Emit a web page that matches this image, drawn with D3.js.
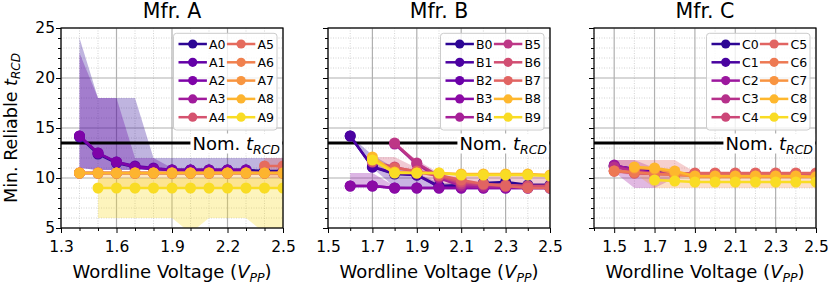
<!DOCTYPE html>
<html>
<head>
<meta charset="utf-8">
<script src="https://cdn.jsdelivr.net/npm/d3@7"></script>
<style>
  body { margin: 0; background: #fff; }
  svg { font-family: "DejaVu Sans", sans-serif; }
</style>
</head>
<body>
<svg id="chart" width="830" height="284"></svg>
<script>
// values
const yTicks = [5, 10, 15, 20, 25];
const nominalTRCD = 13.5;

const namesA = ["A0", "A1", "A2", "A3", "A4", "A5", "A6", "A7", "A8", "A9"];
const colorsA = ["#2c0594", "#6400a7", "#7e03a8", "#a01a9c", "#d5536f", "#e56b5d", "#f0804e", "#f89540", "#fdb42f", "#f9dc24"];
const xTicksA = [1.3, 1.6, 1.9, 2.2, 2.5];
const voltsA = [1.4, 1.5, 1.6, 1.7, 1.8, 1.9, 2.0, 2.1, 2.2, 2.3, 2.4, 2.5];
const meanA = [
	[14.1, 12.4, 11.5, 11.1, 10.9, 10.8, 10.8, 10.8, 10.8, 10.8, 10.7, 10.7],
	[14.2, 12.5, 11.6, 11.2, 11.0, 10.8, 10.8, 10.8, 10.8, 10.8, null, null],
	[14.2, 12.5, 11.6, 11.1, 10.9, 10.8, 10.8, 10.8, 10.8, 10.8, null, null],
	[10.5, 10.5, 10.5, 10.5, 10.5, 10.5, 10.5, 10.5, 10.5, 10.5, 10.5, 10.5],
	[10.5, 10.5, 10.5, 10.5, 10.5, 10.5, 10.5, 10.5, 10.5, 10.5, 10.5, 10.5],
	[null, null, null, null, null, null, null, null, null, null, 11.2, 11.2],
	[10.5, 10.5, 10.5, 10.5, 10.5, 10.5, 10.5, 10.5, 10.5, 10.5, 10.5, 10.5],
	[10.5, 10.5, 10.5, 10.5, 10.5, 10.5, 10.5, 10.5, 10.5, 10.5, 10.5, 10.5],
	[10.5, 10.5, 10.5, 10.5, 10.5, 10.5, 10.5, 10.5, 10.5, 10.5, 10.5, 10.5],
	[null, 9.0, 9.0, 9.0, 9.0, 9.0, 9.0, 9.0, 9.0, 9.0, 9.0, 9.0],
];
const lowA = [
	[11.0, 10.8, 10.8, 10.8, 10.8, 10.8, 10.8, 10.8, 10.8, 10.8, 10.7, 10.7],
	[11.0, 10.8, 10.8, 10.8, 10.8, 10.8, 10.8, 10.8, 10.8, 10.8, null, null],
	null, null, null,
	[null, null, null, null, null, null, null, null, null, null, 10.0, 10.0],
	null, null,
	[null, 9.0, 9.0, 9.0, 9.0, 9.0, 9.0, 9.0, 9.0, 9.0, 9.0, 9.0],
	[null, 6.0, 6.0, 6.0, 6.0, 6.0, 4.5, 6.0, 6.0, 6.0, 4.5, 4.5],
];
const highA = [
	[24.0, 18.0, 18.0, 18.0, 12.0, 12.0, 12.0, 12.0, 12.0, 12.0, 12.0, 12.0],
	[22.5, 18.0, 18.0, 12.0, 12.0, 11.0, 11.0, 11.0, 11.0, 11.0, null, null],
	null, null, null,
	[null, null, null, null, null, null, null, null, null, null, 12.0, 12.0],
	null, null,
	[null, 10.5, 10.5, 10.5, 10.5, 10.5, 10.5, 10.5, 10.5, 10.5, 10.5, 10.5],
	[null, 10.0, 10.0, 10.0, 10.0, 10.0, 10.0, 10.0, 10.0, 10.0, 10.0, 10.0],
];

const namesB = ["B0", "B1", "B2", "B3", "B4", "B5", "B6", "B7", "B8", "B9"];
const colorsB = ["#2c0594", "#4c02a1", "#6a00a8", "#8b0aa5", "#a62098", "#bd3786", "#d14e72", "#e16462", "#feb72d", "#f9dc24"];
const xTicksB = [1.5, 1.7, 1.9, 2.1, 2.3, 2.5];
const voltsB = [1.6, 1.7, 1.8, 1.9, 2.0, 2.1, 2.2, 2.3, 2.4, 2.5];
const meanB = [
	[14.2, 11.1, 10.4, 10.3, 9.2, 9.3, 9.5, 9.6, 9.3, 9.3],
	[14.2, 11.1, 10.5, 10.3, 9.1, 9.1, 9.1, 9.1, 9.1, 9.1],
	[9.2, 9.2, 9.0, 9.0, 9.0, 9.0, 9.0, 9.0, 9.0, 9.0],
	[9.2, 9.2, 9.0, 9.0, 9.0, 9.0, 9.0, 9.0, 9.0, 9.0],
	[null, null, 13.4, 11.4, 10.0, 9.2, 9.1, 9.1, 9.1, 9.1],
	[null, null, 13.5, 11.5, 10.2, 9.4, 9.3, 9.2, 9.2, 9.2],
	[null, 11.6, 11.1, 10.6, 10.2, 9.6, 9.4, 9.3, 9.2, 9.2],
	[null, null, 11.0, 10.7, 10.3, 9.8, 9.4, 9.2, 9.0, 9.0],
	[null, 12.1, 10.6, 10.5, 10.5, 10.4, 10.4, 10.4, 10.4, 10.3],
	[null, 11.8, 10.5, 10.5, 10.5, 10.3, 10.3, 10.3, 10.3, 10.2],
];
const lowB = [
	[14.0, 11.0, 10.3, 10.3, 9.2, 9.2, 9.2, 9.2, 9.2, 9.2],
	[14.2, 11.0, 9.1, 9.1, 9.1, 9.1, 9.1, 9.1, 9.1, 9.1],
	null,
	[9.2, 9.2, 9.0, 9.0, 9.0, 9.0, 9.0, 9.0, 9.0, 9.0],
	null,
	[null, null, 13.5, 11.0, 10.0, 9.2, 9.2, 9.2, 9.2, 9.2],
	[null, 11.0, 10.4, 10.2, 9.2, 9.0, 9.0, 9.0, 9.0, 9.0],
	null, null, null,
];
const highB = [
	[14.2, 12.3, 11.0, 10.5, 9.5, 9.5, 9.6, 9.6, 9.5, 9.5],
	[14.2, 11.1, 10.5, 10.3, 9.1, 9.1, 9.1, 9.1, 9.1, 9.1],
	null,
	[10.5, 10.5, 9.2, 9.0, 9.0, 9.0, 9.0, 9.0, 9.0, 9.0],
	null,
	[null, null, 13.5, 11.8, 10.5, 9.6, 9.5, 9.4, 9.4, 9.4],
	[null, 12.1, 12.1, 11.0, 10.3, 10.2, 10.2, 10.2, 10.2, 10.2],
	null, null, null,
];

const namesC = ["C0", "C1", "C2", "C3", "C4", "C5", "C6", "C7", "C8", "C9"];
const colorsC = ["#2c0594", "#4903a0", "#9c179e", "#b6308b", "#cc4778", "#e16462", "#ed7953", "#f89441", "#feb72d", "#f9dc24"];
const xTicksC = [1.5, 1.7, 1.9, 2.1, 2.3, 2.5];
const voltsC = [1.5, 1.6, 1.7, 1.8, 1.9, 2.0, 2.1, 2.2, 2.3, 2.4, 2.5];
const meanC = [
	[11.2, 10.9, 10.6, 10.5, 10.4, 10.4, 10.4, 10.4, 10.4, 10.4, 10.4],
	[11.2, 10.9, 10.6, 10.5, 10.4, 10.4, 10.4, 10.4, 10.4, 10.4, 10.4],
	[11.3, 10.8, 10.5, 10.4, 10.3, 10.3, 10.3, 10.3, 10.3, 10.3, 10.3],
	[11.1, 10.7, 10.5, 10.4, 10.4, 10.4, 10.4, 10.4, 10.4, 10.4, 10.4],
	[10.7, 10.5, 10.4, 10.4, 10.4, 10.4, 10.4, 10.4, 10.4, 10.4, 10.4],
	[10.7, 10.5, 10.4, 10.4, 10.5, 10.5, 10.5, 10.5, 10.5, 10.5, 10.5],
	[10.7, 10.6, 10.4, 10.3, 10.2, 10.2, 10.2, 10.2, 10.2, 10.2, 10.2],
	[null, 11.0, 10.9, 10.5, 10.1, 10.1, 10.1, 10.1, 10.1, 10.1, 10.1],
	[null, 11.1, 11.0, 10.7, 10.2, 10.2, 10.2, 10.2, 10.2, 10.2, 10.1],
	[null, null, 9.8, 9.7, 9.6, 9.6, 9.6, 9.6, 9.6, 9.6, 9.6],
];
const lowC = [
	null, null,
	[10.6, 9.0, 9.0, 10.0, 10.2, 10.2, 10.2, 10.2, 10.2, 10.2, 10.2],
	null, null,
	[10.5, 10.3, 10.3, 10.3, 10.3, 10.3, 10.3, 10.3, 10.3, 10.3, 10.3],
	null,
	[null, 10.5, 9.0, 9.0, 9.0, 9.0, 9.0, 9.0, 9.0, 9.0, 9.0],
	null, null,
];
const highC = [
	null, null,
	[11.8, 11.8, 11.0, 10.6, 10.4, 10.4, 10.4, 10.4, 10.4, 10.4, 10.4],
	null, null,
	[11.8, 11.8, 11.8, 11.8, 10.6, 10.6, 10.6, 10.6, 10.6, 10.6, 10.6],
	null,
	[null, 11.0, 10.4, 10.4, 10.4, 10.4, 10.4, 10.4, 10.4, 10.4, 10.4],
	null, null,
];

const svg = d3.select("svg#chart");
const plotTop = 28;
const plotBottom = 228;
const yScale = d3.scaleLinear([5, 25], [plotBottom, plotTop]);

const panels = [
	{ key: "A", title: "Mfr. A", left: 61, right: 283, domain: [1.3, 2.5], xTicks: xTicksA, volts: voltsA,
		mean: meanA, low: lowA, high: highA, names: namesA, colors: colorsA, showY: true },
	{ key: "B", title: "Mfr. B", left: 328, right: 550, domain: [1.5, 2.5], xTicks: xTicksB, volts: voltsB,
		mean: meanB, low: lowB, high: highB, names: namesB, colors: colorsB, showY: false },
	{ key: "C", title: "Mfr. C", left: 594, right: 816, domain: [1.4, 2.5], xTicks: xTicksC, volts: voltsC,
		mean: meanC, low: lowC, high: highC, names: namesC, colors: colorsC, showY: false },
];

const isMajor = (ticks, v) => ticks.some((t) => Math.abs(t - v) < 1e-6);

function styleAxis(a, size) {
	a.select(".domain").remove();
	a.selectAll(".tick line").attr("stroke", "#000").attr("stroke-width", 1);
	a.selectAll(".tick text").attr("fill", "#000");
	a.attr("font-size", size).attr("font-family", "DejaVu Sans, sans-serif");
}

function drawPanel(p) {
	const x = d3.scaleLinear(p.domain, [p.left, p.right]);
	const g = svg.append("g").attr("id", "panel" + p.key);

	g.append("clipPath")
		.attr("id", "clip" + p.key)
		.append("rect")
		.attr("x", p.left)
		.attr("y", plotTop)
		.attr("width", p.right - p.left)
		.attr("height", plotBottom - plotTop);

	const minorX = d3
		.range(Math.round(p.domain[0] * 10), Math.round(p.domain[1] * 10) + 1)
		.map((d) => d / 10)
		.filter((d) => !isMajor(p.xTicks, d));
	const minorY = d3.range(5, 26).filter((d) => d % 5 !== 0);

	// grid
	g.selectAll("minorGridX")
		.data(minorX)
		.enter()
		.append("line")
		.attr("x1", (d) => x(d))
		.attr("x2", (d) => x(d))
		.attr("y1", plotTop)
		.attr("y2", plotBottom)
		.attr("stroke", "#c8c8c8")
		.attr("stroke-width", 0.8)
		.attr("stroke-dasharray", "1,1.5");
	g.selectAll("minorGridY")
		.data(minorY)
		.enter()
		.append("line")
		.attr("x1", p.left)
		.attr("x2", p.right)
		.attr("y1", (d) => yScale(d))
		.attr("y2", (d) => yScale(d))
		.attr("stroke", "#c8c8c8")
		.attr("stroke-width", 0.8)
		.attr("stroke-dasharray", "1,1.5");
	g.selectAll("majorGridX")
		.data(p.xTicks)
		.enter()
		.append("line")
		.attr("x1", (d) => x(d))
		.attr("x2", (d) => x(d))
		.attr("y1", plotTop)
		.attr("y2", plotBottom)
		.attr("stroke", "#b0b0b0")
		.attr("stroke-width", 1.2);
	g.selectAll("majorGridY")
		.data(yTicks)
		.enter()
		.append("line")
		.attr("x1", p.left)
		.attr("x2", p.right)
		.attr("y1", (d) => yScale(d))
		.attr("y2", (d) => yScale(d))
		.attr("stroke", "#b0b0b0")
		.attr("stroke-width", 1.2);

	const plot = g.append("g").attr("clip-path", `url(#clip${p.key})`);

	// min/max bands
	const area = d3
		.area()
		.defined((d) => d.lo != null)
		.x((d) => x(d.v))
		.y0((d) => yScale(d.lo))
		.y1((d) => yScale(d.hi));
	p.mean.forEach((s, i) => {
		if (!p.low[i]) return;
		const pts = p.volts.map((v, j) => ({ v: v, lo: p.low[i][j], hi: p.high[i][j] }));
		plot.append("path")
			.datum(pts)
			.attr("d", area)
			.attr("fill", p.colors[i])
			.attr("fill-opacity", 0.3);
	});

	plot.append("line")
		.attr("x1", p.left)
		.attr("x2", p.right)
		.attr("y1", yScale(nominalTRCD))
		.attr("y2", yScale(nominalTRCD))
		.attr("stroke", "#000")
		.attr("stroke-width", 3);

	const line = d3
		.line()
		.defined((d) => d.y != null)
		.x((d) => x(d.v))
		.y((d) => yScale(d.y));
	p.mean.forEach((s, i) => {
		const pts = p.volts.map((v, j) => ({ v: v, y: s[j] }));
		plot.append("path")
			.datum(pts)
			.attr("d", line)
			.attr("fill", "none")
			.attr("stroke", p.colors[i])
			.attr("stroke-width", 2.5);
		plot.selectAll("dots" + i)
			.data(pts.filter((d) => d.y != null))
			.enter()
			.append("circle")
			.attr("cx", (d) => x(d.v))
			.attr("cy", (d) => yScale(d.y))
			.attr("r", 5.5)
			.attr("fill", p.colors[i]);
	});

	// nominal label
	const nom = g.append("text")
		.attr("x", p.right - 3)
		.attr("y", yScale(nominalTRCD) + 6.5)
		.attr("text-anchor", "end")
		.attr("font-size", 18);
	nom.append("tspan").text("Nom. ");
	nom.append("tspan").attr("font-style", "italic").text("t");
	nom.append("tspan").attr("font-style", "italic").attr("font-size", 12.5).attr("dy", 4).text("RCD");
	const nb = nom.node().getBBox();
	g.insert("rect", "text")
		.attr("x", nb.x - 2)
		.attr("y", yScale(nominalTRCD) - 9.5)
		.attr("width", nb.width + 4)
		.attr("height", 20)
		.attr("fill", "#fff");

	// spines
	g.append("rect")
		.attr("x", p.left)
		.attr("y", plotTop)
		.attr("width", p.right - p.left)
		.attr("height", plotBottom - plotTop)
		.attr("fill", "none")
		.attr("stroke", "#000")
		.attr("stroke-width", 1.2);

	// axes
	g.append("g")
		.attr("transform", `translate(0,${plotBottom})`)
		.call(d3.axisBottom(x).tickValues(p.xTicks).tickFormat(d3.format(".1f")).tickSize(5).tickPadding(8))
		.call((a) => styleAxis(a, 15.5));
	g.append("g")
		.attr("transform", `translate(0,${plotBottom})`)
		.call(d3.axisBottom(x).tickValues(minorX).tickFormat("").tickSize(3))
		.call((a) => styleAxis(a, 15.5));
	g.append("g")
		.attr("transform", `translate(${p.left},0)`)
		.call(d3.axisLeft(yScale).tickValues(yTicks).tickFormat(p.showY ? d3.format("d") : "").tickSize(5).tickPadding(1))
		.call((a) => styleAxis(a, 15.5));
	g.append("g")
		.attr("transform", `translate(${p.left},0)`)
		.call(d3.axisLeft(yScale).tickValues(minorY).tickFormat("").tickSize(3))
		.call((a) => styleAxis(a, 15.5));

	const cx = (p.left + p.right) / 2;
	g.append("text")
		.attr("x", cx)
		.attr("y", 17.5)
		.attr("text-anchor", "middle")
		.attr("font-size", 20.5)
		.text(p.title);

	const xl = g.append("text")
		.attr("x", cx)
		.attr("y", 278)
		.attr("text-anchor", "middle")
		.attr("font-size", 18);
	xl.append("tspan").text("Wordline Voltage (");
	xl.append("tspan").attr("font-style", "italic").text("V");
	xl.append("tspan").attr("font-style", "italic").attr("font-size", 12.5).attr("dy", 4).text("PP");
	xl.append("tspan").attr("dy", -4).text(")");

	if (p.showY) {
		const yl = g.append("text")
			.attr("transform", `translate(16.5,${(plotTop + plotBottom) / 2}) rotate(-90)`)
			.attr("text-anchor", "middle")
			.attr("font-size", 17.5);
		yl.append("tspan").text("Min. Reliable ");
		yl.append("tspan").attr("font-style", "italic").text("t");
		yl.append("tspan").attr("font-style", "italic").attr("font-size", 12).attr("dy", 3.5).text("RCD");
	}

	// legend
	const lx = p.right - 109.5;
	const ly = plotTop + 5.3;
	const legend = g.append("g").attr("transform", `translate(${lx},${ly})`);
	legend.append("rect")
		.attr("width", 103.5)
		.attr("height", 96.7)
		.attr("rx", 3)
		.attr("fill", "#fff")
		.attr("fill-opacity", 0.8)
		.attr("stroke", "#cccccc");
	const entries = legend
		.selectAll("entry")
		.data(p.names)
		.enter()
		.append("g")
		.attr("transform", (d, i) => `translate(${i < 5 ? 5 : 53.4},${10.7 + (i % 5) * 18.3})`);
	entries.append("line")
		.attr("x1", 0)
		.attr("x2", 28.4)
		.attr("stroke", (d, i) => p.colors[i])
		.attr("stroke-width", 2.5);
	entries.append("circle")
		.attr("cx", 14.2)
		.attr("r", 4.6)
		.attr("fill", (d, i) => p.colors[i]);
	entries.append("text")
		.attr("x", 30.5)
		.attr("dy", "0.36em")
		.attr("font-size", 12.5)
		.text((d) => d);
}

panels.forEach(drawPanel);
</script>
</body>
</html>
